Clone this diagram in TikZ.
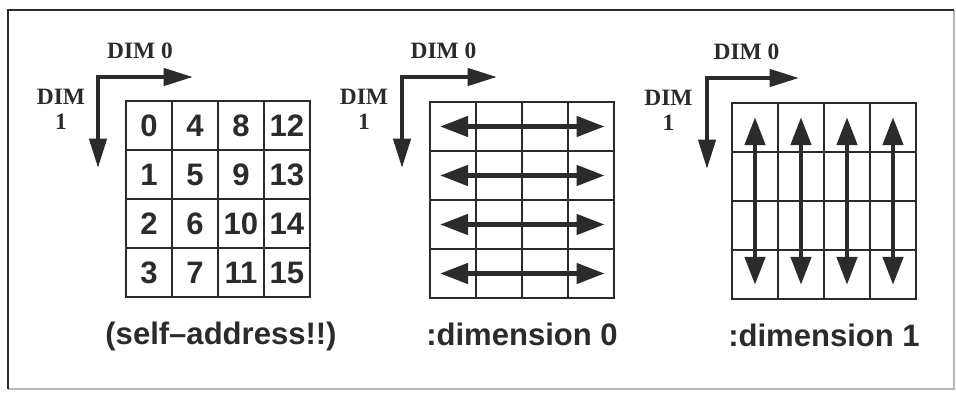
\documentclass[tikz,border=0pt]{standalone}
\usepackage{fontspec}
\setmainfont{Liberation Serif}
\newfontfamily\hv{Liberation Sans}
\usetikzlibrary{arrows.meta}
\definecolor{ink}{HTML}{2B2B2B}
\definecolor{faint}{HTML}{B8B8B8}
\begin{document}
\begin{tikzpicture}[x=0.03cm,y=-0.03cm,
  cell/.style={draw=ink,line width=1.6pt,minimum width=1.38cm,minimum height=1.47cm,inner sep=0pt,outer sep=0pt,
    font=\hv\bfseries\fontsize{26.5}{28}\selectfont,text=ink},
  axisarrow/.style={draw=ink,line width=3.6pt,line join=miter,
    {Triangle[length=25pt,width=14.5pt]}-{Triangle[length=25pt,width=14.5pt]}},
  dblarrow/.style={draw=ink,line width=4.2pt,
    {Triangle[length=24pt,width=17pt]}-{Triangle[length=24pt,width=17pt]}},
  dimlabel/.style={font=\bfseries\fontsize{20}{21.3}\selectfont,text=ink,inner sep=0pt},
  caption/.style={font=\hv\bfseries\fontsize{26.5}{28}\selectfont,text=ink,inner sep=0pt,anchor=base}]
\useasboundingbox (0,0) rectangle (956,392);
% frame
\draw[faint,line width=1.5pt] (954,10) -- (954,389) -- (8,389);
\draw[ink,line width=1.7pt] (8,389) -- (8,10) -- (954,10);

% ---------- grid 1 (self-address)
\foreach \c in {0,...,3}{
  \foreach \r in {0,...,3}{
    \pgfmathtruncatemacro{\n}{4*\c+\r}
    \node[cell] (a-\c-\r) at ({126+23+46*\c},{101+24.5+49*\r}) {\n};
  }
}
\coordinate (a-o) at (98,77);
\coordinate (a-h) at (193,77);
\coordinate (a-v) at (98,168);
\draw[axisarrow] (a-v) -- (a-o) -- (a-h);
\node[dimlabel,anchor=base] (a-d0) at (140,58) {DIM 0};
\node[dimlabel,anchor=north,align=center] (a-d1) at (61,89) {DIM\\1};
\node[caption] (a-cap) at (221,344) {(self–address!!)};

% ---------- grid 2 (dimension 0)
\foreach \c in {0,...,3}{
  \foreach \r in {0,...,3}{
    \node[cell] (b-\c-\r) at ({430+23+46*\c},{102+24.5+49*\r}) {};
  }
}
\foreach \r in {0,...,3}{
  \draw[dblarrow] ([xshift=8.5pt]b-0-\r.west) -- ([xshift=-8pt]b-3-\r.east);
}
\coordinate (b-o) at (402,77);
\coordinate (b-h) at (497,77);
\coordinate (b-v) at (402,168);
\draw[axisarrow] (b-v) -- (b-o) -- (b-h);
\node[dimlabel,anchor=base] (b-d0) at (443.5,58) {DIM 0};
\node[dimlabel,anchor=north,align=center] (b-d1) at (364,89) {DIM\\1};
\node[caption] (b-cap) at (522,345) {:dimension 0};

% ---------- grid 3 (dimension 1)
\foreach \c in {0,...,3}{
  \foreach \r in {0,...,3}{
    \node[cell] (c-\c-\r) at ({732+23+46*\c},{103+24.5+49*\r}) {};
  }
}
\foreach \c in {0,...,3}{
  \draw[dblarrow] ([yshift=-12pt]c-\c-0.north) -- ([yshift=12pt]c-\c-3.south);
}
\coordinate (c-o) at (707,78);
\coordinate (c-h) at (799,78);
\coordinate (c-v) at (707,169);
\draw[axisarrow] (c-v) -- (c-o) -- (c-h);
\node[dimlabel,anchor=base] (c-d0) at (746.5,59) {DIM 0};
\node[dimlabel,anchor=north,align=center] (c-d1) at (668.5,90) {DIM\\1};
\node[caption] (c-cap) at (824,346) {:dimension 1};
\end{tikzpicture}
\end{document}
